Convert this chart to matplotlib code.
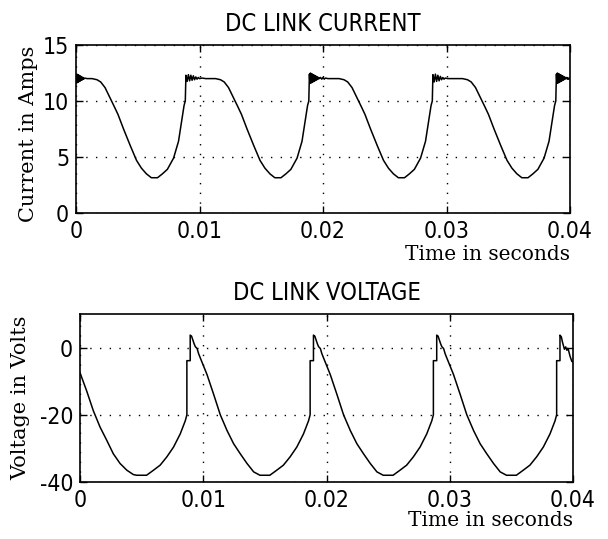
"""
DC link current and voltage - two stacked MATLAB style panels
"""
import numpy as np
import matplotlib
matplotlib.use("Agg")
import matplotlib.pyplot as plt

# time in milliseconds, current in amps
current_time_ms = [
    0.00, 0.04, 0.08, 0.12, 0.16, 0.20, 0.24, 0.28, 0.32, 0.36, 0.40, 0.44,
    0.48, 0.52, 0.56, 0.62, 0.70, 0.9, 1.3, 1.7, 2.0, 2.35, 2.75, 3.1, 3.4,
    3.85, 4.4, 4.9, 5.3, 5.7, 6.1, 6.6, 7.0, 7.4, 7.9, 8.3, 8.55, 8.75, 8.85,
    8.9, 9.0, 9.1, 9.2, 9.3, 9.4, 9.5, 9.6, 9.7, 9.8, 9.9, 10.0, 10.2, 10.5,
    10.9, 11.3, 11.7, 12.0, 12.35, 12.75, 13.1, 13.4, 13.85, 14.4, 14.9, 15.3,
    15.7, 16.1, 16.6, 17.0, 17.4, 17.9, 18.3, 18.55, 18.75, 18.85, 18.9,
    18.94, 18.98, 19.02, 19.06, 19.10, 19.14, 19.18, 19.22, 19.26, 19.30,
    19.34, 19.38, 19.42, 19.46, 19.50, 19.55, 19.60, 19.65, 19.7, 19.8, 19.9,
    20.0, 20.1, 20.2, 20.4, 20.9, 21.3, 21.7, 22.0, 22.35, 22.75, 23.1, 23.4,
    23.85, 24.4, 24.9, 25.3, 25.7, 26.1, 26.6, 27.0, 27.4, 27.9, 28.3, 28.55,
    28.75, 28.85, 28.9, 29.0, 29.1, 29.2, 29.3, 29.4, 29.5, 29.6, 29.7, 29.8,
    29.9, 30.1, 30.5, 30.9, 31.3, 31.7, 32.0, 32.35, 32.75, 33.1, 33.4, 33.85,
    34.4, 34.9, 35.3, 35.7, 36.1, 36.6, 37.0, 37.4, 37.9, 38.3, 38.55, 38.75,
    38.85, 38.9, 38.94, 38.98, 39.02, 39.06, 39.10, 39.14, 39.18, 39.22,
    39.26, 39.30, 39.34, 39.38, 39.42, 39.46, 39.50, 39.55, 39.60, 39.65,
    39.7, 39.75, 39.8, 39.85, 39.9, 39.95, 40.0,
]
current_amps = [
    12.2, 11.6, 12.4, 11.65, 12.35, 11.7, 12.3, 11.75, 12.25, 11.8, 12.2, 11.85,
    12.15, 11.9, 12.1, 11.95, 12.05, 12.0, 12.0, 11.9, 11.7, 11.2, 10.3, 9.5, 8.8,
    7.5, 6.0, 4.7, 4.0, 3.5, 3.15, 3.15, 3.5, 3.9, 4.9, 6.4, 8.2, 9.6, 10.0,
    12.3, 11.75, 12.35, 11.8, 12.3, 11.85, 12.25, 11.9, 12.15, 11.95, 12.1, 12.0, 12.05, 12.0,
    12.0, 12.0, 11.9, 11.7, 11.2, 10.3, 9.5, 8.8, 7.5, 6.0, 4.7, 4.0,
    3.5, 3.15, 3.15, 3.5, 3.9, 4.9, 6.4, 8.2, 9.6, 10.0, 12.4,
    11.6, 12.5, 11.6, 12.45, 11.65, 12.4, 11.7, 12.35, 11.75, 12.3,
    11.8, 12.25, 11.85, 12.2, 11.9, 12.15, 11.95, 12.1, 12.0, 12.1, 11.95,
    12.1, 11.95, 12.05, 12.0, 12.0, 12.0, 11.9, 11.7, 11.2, 10.3, 9.5, 8.8,
    7.5, 6.0, 4.7, 4.0, 3.5, 3.15, 3.15, 3.5, 3.9, 4.9, 6.4, 8.2,
    9.6, 10.0, 12.35, 11.7, 12.4, 11.75, 12.3, 11.8, 12.2, 11.9, 12.1, 11.95,
    12.05, 12.0, 12.0, 12.0, 12.0, 11.9, 11.7, 11.2, 10.3, 9.5, 8.8, 7.5,
    6.0, 4.7, 4.0, 3.5, 3.15, 3.15, 3.5, 3.9, 4.9, 6.4, 8.2, 9.6,
    10.0, 12.4, 11.6, 12.5, 11.6, 12.45, 11.65, 12.4, 11.7, 12.35,
    11.75, 12.3, 11.8, 12.25, 11.85, 12.2, 11.9, 12.15, 11.95, 12.1,
    12.0, 12.1, 11.95, 12.05, 11.95, 12.05, 12.0,
]

# time in milliseconds, voltage in volts
voltage_time_ms = [
    0.0, 0.54, 1.08, 1.63, 2.17, 2.7, 3.25, 3.8, 4.33, 4.6, 5.4, 5.96, 6.5,
    7.05, 7.59, 8.13, 8.54, 8.67, 8.67, 8.94, 8.94, 9.05, 9.15, 9.25, 9.35,
    9.5, 9.62, 9.76, 10.3, 10.84, 11.38, 11.93, 12.46, 13.0, 13.55, 14.09,
    14.6, 15.4, 15.96, 16.5, 17.05, 17.59, 18.13, 18.54, 18.67, 18.67, 18.94,
    18.94, 19.05, 19.15, 19.25, 19.35, 19.5, 19.62, 19.76, 20.3, 20.84, 21.38,
    21.93, 22.46, 23.0, 23.55, 24.09, 24.6, 25.4, 25.96, 26.5, 27.05, 27.59,
    28.13, 28.54, 28.67, 28.67, 28.94, 28.94, 29.05, 29.15, 29.25, 29.35,
    29.5, 29.62, 29.76, 30.3, 30.84, 31.38, 31.93, 32.46, 33.0, 33.55, 34.09,
    34.6, 35.4, 35.96, 36.5, 37.05, 37.59, 38.13, 38.54, 38.67, 38.67, 38.94,
    38.94, 39.05, 39.15, 39.3, 39.4, 39.5, 39.6, 39.75, 39.9, 40.0,
]
voltage_volts = [
    -7.5, -12.9, -18.8, -23.7, -27.6, -31.6, -34.5, -36.5, -37.8, -38, -38, -36.5, -35,
    -32.5, -29.6, -25.7, -21.8, -20, -3.9, -3.9, 3.7, 3.4, 2.3, 1.2, 0.3,
    -0.3, -1.8, -3.1, -8.0, -13.9, -20, -24.7, -28.6, -31.6, -34.5, -37,
    -38, -38, -36.5, -35, -32.5, -29.6, -25.7, -21.8, -20, -3.9, -3.9,
    3.7, 3.4, 2.3, 1.2, 0.3, -0.3, -1.8, -3.1, -8.0, -13.9, -20,
    -24.7, -28.6, -31.6, -34.5, -37, -38, -38, -36.5, -35, -32.5, -29.6,
    -25.7, -21.8, -20, -3.9, -3.9, 3.7, 3.4, 2.3, 1.2, 0.3,
    -0.3, -1.8, -3.1, -8.0, -13.9, -20, -24.7, -28.6, -31.6, -34.5, -37,
    -38, -38, -36.5, -35, -32.5, -29.6, -25.7, -21.8, -20, -3.9, -3.9,
    3.7, 3.2, 1.5, -0.5, 0.2, -0.8, -0.3, -2.5, -4.1, -4.3,
]

x_ticks = [0, 0.01, 0.02, 0.03, 0.04]
x_tick_labels = ["0", "0.01", "0.02", "0.03", "0.04"]
current_ticks = [0, 5, 10, 15]
voltage_ticks = [-40, -20, 0]

SANS = dict(family="DejaVu Sans", stretch="condensed")
SERIF = dict(family="DejaVu Serif")


def style_axis(axis, y_ticks):
    """MATLAB look: boxed, inward ticks on all sides, dotted grid"""
    axis.set_xlim(0, 0.04)
    axis.set_xticks(x_ticks)
    axis.set_xticklabels(x_tick_labels, fontsize=16.5, **SANS)
    axis.set_yticks(y_ticks)
    axis.set_yticklabels([str(v) for v in y_ticks], fontsize=16.5, **SANS)
    axis.tick_params(direction="in", length=5, width=1.0, top=True,
                     right=True, pad=5, colors="black")
    axis.grid(True, color="black", linestyle=(0, (1, 6)), linewidth=1.0)
    for spine in axis.spines.values():
        spine.set_linewidth(1.2)
        spine.set_color("black")


def plot():
    """Draw both panels and save"""
    fig = plt.figure(figsize=(6.08, 5.39), dpi=100)
    ax_top = fig.add_axes([0.125, 0.6048, 0.8125, 0.3117])
    ax_bot = fig.add_axes([0.1316, 0.1058, 0.8109, 0.3117])

    ax_top.plot(np.array(current_time_ms) / 1000, current_amps,
                color="black", linewidth=1.1)
    style_axis(ax_top, current_ticks)
    ax_top.set_ylim(0, 15)
    ax_top.set_title("DC LINK CURRENT", fontsize=17, pad=10, **SANS)
    ax_top.set_ylabel("Current in Amps", fontsize=15, **SERIF)
    ax_top.yaxis.set_label_coords(-0.077, 0.47)
    ax_top.set_xlabel("Time in seconds", fontsize=14.5, ha="right", **SERIF)
    ax_top.xaxis.set_label_coords(1.0, -0.19)

    ax_bot.plot(np.array(voltage_time_ms) / 1000, voltage_volts,
                color="black", linewidth=1.1)
    style_axis(ax_bot, voltage_ticks)
    ax_bot.set_ylim(-40, 10)
    ax_bot.set_title("DC LINK VOLTAGE", fontsize=17, pad=10, **SANS)
    ax_bot.set_ylabel("Voltage in Volts", fontsize=15, **SERIF)
    ax_bot.yaxis.set_label_coords(-0.101, 0.5)
    ax_bot.set_xlabel("Time in seconds", fontsize=14.5, ha="right", **SERIF)
    ax_bot.xaxis.set_label_coords(1.0, -0.17)

    fig.savefig("out.png", dpi=100, facecolor="white")


if __name__ == "__main__":
    plot()
